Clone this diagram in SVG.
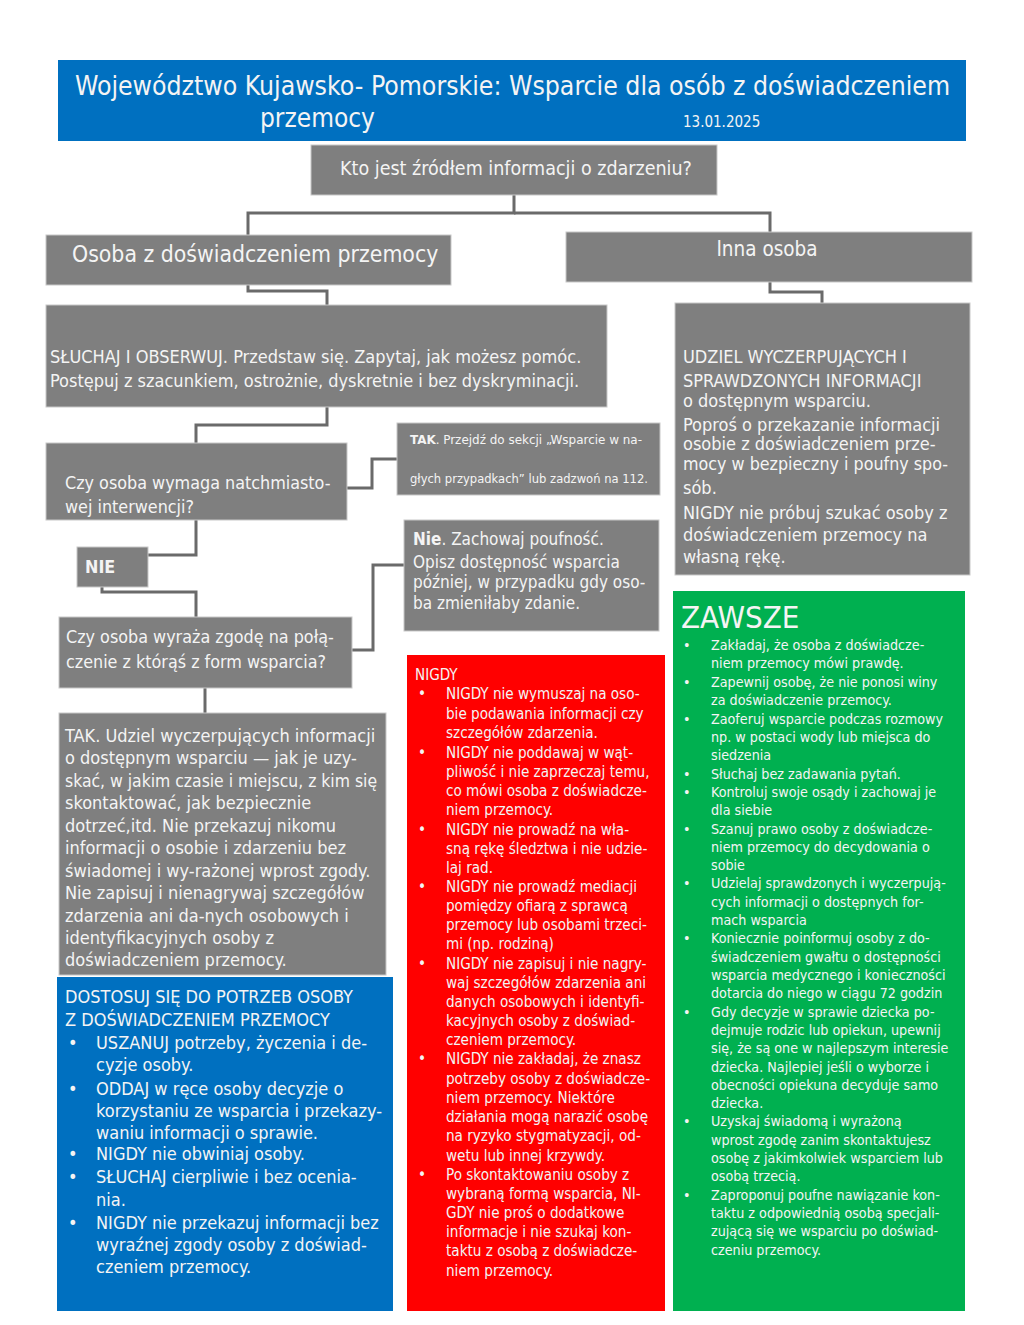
<svg xmlns="http://www.w3.org/2000/svg" width="1024" height="1325" viewBox="0 0 1024 1325">
<style>
text{font-family:"DejaVu Sans Condensed","DejaVu Sans","Liberation Sans",sans-serif;fill:#f4f4f4}
.g{fill:#7f7f7f;stroke:#c8c8c8;stroke-width:1}
.b{fill:#0070c0}
.r{fill:#ff0000}
.gr{fill:#00b050}
.c{fill:none;stroke:#6a6a6a;stroke-width:3}
.t18{font-size:18px}
.t17{font-size:17.8px}
.t16{font-size:17px}
.t14{font-size:15.1px}
.t13{font-size:14.2px}
.t12{font-size:12.5px}
</style>
<rect width="1024" height="1325" fill="#ffffff"/>
<g id="title">
<rect class="b" x="58" y="60" width="908" height="81"/>
<text x="75" y="95" font-size="26" textLength="875" lengthAdjust="spacingAndGlyphs">Województwo Kujawsko- Pomorskie: Wsparcie dla osób z doświadczeniem</text>
<text x="260" y="127" font-size="26">przemocy</text>
<text x="683" y="127" font-size="15">13.01.2025</text>
</g>
<g id="connectors">
<polyline class="c" points="514,195 514,213 248,213 248,235"/>
<polyline class="c" points="514,213 770,213 770,232"/>
<polyline class="c" points="248,285 248,291 327,291 327,305"/>
<polyline class="c" points="770,282 770,292 822,292 822,303"/>
<polyline class="c" points="327,407 327,425 196,425 196,443"/>
<polyline class="c" points="347,488 372,488 372,459 397,459"/>
<polyline class="c" points="196,520 196,555 148,555"/>
<polyline class="c" points="102,587 102,592 196,592 196,617"/>
<polyline class="c" points="352,650 373,650 373,565 404,565"/>
<polyline class="c" points="205,688 205,713"/>
</g>
<g id="q1">
<rect class="g" x="311" y="145" width="406" height="50"/>
<text x="516" y="175" font-size="19.5" text-anchor="middle">Kto jest źródłem informacji o zdarzeniu?</text>
</g>
<g id="osoba">
<rect class="g" x="46" y="235" width="405" height="50"/>
<text x="72" y="262" font-size="22.8">Osoba z doświadczeniem przemocy</text>
</g>
<g id="inna">
<rect class="g" x="566" y="232" width="406" height="50"/>
<text x="767" y="256" font-size="20.5" text-anchor="middle">Inna osoba</text>
</g>
<g id="sluchaj">
<rect class="g" x="46" y="305" width="561" height="102"/>
<text class="t18" x="50" y="363">SŁUCHAJ I OBSERWUJ. Przedstaw się. Zapytaj, jak możesz pomóc.</text>
<text class="t18" x="50" y="387">Postępuj z szacunkiem, ostrożnie, dyskretnie i bez dyskryminacji.</text>
</g>
<g id="udziel">
<rect class="g" x="675" y="303" width="295" height="272"/>
<text class="t18" x="683" y="363">UDZIEL WYCZERPUJĄCYCH I</text>
<text class="t18" x="683" y="387">SPRAWDZONYCH INFORMACJI</text>
<text class="t18" x="683" y="407">o dostępnym wsparciu.</text>
<text class="t18" x="683" y="431">Poproś o przekazanie informacji</text>
<text class="t18" x="683" y="450">osobie z doświadczeniem prze-</text>
<text class="t18" x="683" y="470" textLength="265" lengthAdjust="spacingAndGlyphs">mocy w bezpieczny i poufny spo-</text>
<text class="t18" x="683" y="494">sób.</text>
<text class="t18" x="683" y="519">NIGDY nie próbuj szukać osoby z</text>
<text class="t18" x="683" y="541">doświadczeniem przemocy na</text>
<text class="t18" x="683" y="563">własną rękę.</text>
</g>
<g id="q2">
<rect class="g" x="46" y="443" width="301" height="77"/>
<text class="t17" x="65" y="489">Czy osoba wymaga natchmiasto-</text>
<text class="t17" x="65" y="513">wej interwencji?</text>
</g>
<g id="tak1">
<rect class="g" x="397" y="423" width="263" height="72"/>
<text class="t12" x="410" y="444" textLength="232" lengthAdjust="spacingAndGlyphs"><tspan font-weight="bold">TAK</tspan>. Przejdź do sekcji „Wsparcie w na-</text>
<text class="t12" x="410" y="483" textLength="238" lengthAdjust="spacingAndGlyphs">głych przypadkach” lub zadzwoń na 112.</text>
</g>
<g id="nie">
<rect class="g" x="77" y="547" width="71" height="40"/>
<text class="t17" x="85" y="573" font-weight="bold">NIE</text>
</g>
<g id="q3">
<rect class="g" x="59" y="617" width="293" height="71"/>
<text class="t17" x="66" y="643">Czy osoba wyraża zgodę na połą-</text>
<text class="t17" x="66" y="668">czenie z którąś z form wsparcia?</text>
</g>
<g id="nie2">
<rect class="g" x="404" y="520" width="255" height="111"/>
<text class="t16" x="413" y="545"><tspan font-weight="bold">Nie</tspan>. Zachowaj poufność.</text>
<text class="t16" x="413" y="568">Opisz dostępność wsparcia</text>
<text class="t16" x="413" y="588">później, w przypadku gdy oso-</text>
<text class="t16" x="413" y="609">ba zmieniłaby zdanie.</text>
</g>
<g id="tak2">
<rect class="g" x="59" y="713" width="327" height="262"/>
<text class="t18" x="65" y="742">TAK. Udziel wyczerpujących informacji</text>
<text class="t18" x="65" y="764">o dostępnym wsparciu — jak je uzy-</text>
<text class="t18" x="65" y="787" textLength="312" lengthAdjust="spacingAndGlyphs">skać, w jakim czasie i miejscu, z kim się</text>
<text class="t18" x="65" y="809">skontaktować, jak bezpiecznie</text>
<text class="t18" x="65" y="832">dotrzeć,itd. Nie przekazuj nikomu</text>
<text class="t18" x="65" y="854">informacji o osobie i zdarzeniu bez</text>
<text class="t18" x="65" y="877">świadomej i wy-rażonej wprost zgody.</text>
<text class="t18" x="65" y="899">Nie zapisuj i nienagrywaj szczegółów</text>
<text class="t18" x="65" y="922">zdarzenia ani da-nych osobowych i</text>
<text class="t18" x="65" y="944">identyfikacyjnych osoby z</text>
<text class="t18" x="65" y="966">doświadczeniem przemocy.</text>
</g>
<g id="dostosuj">
<rect class="b" x="57" y="977" width="336" height="334"/>
<text class="t18" x="65" y="1003">DOSTOSUJ SIĘ DO POTRZEB OSOBY</text>
<text class="t18" x="65" y="1026">Z DOŚWIADCZENIEM PRZEMOCY</text>
<g class="t18">
<text x="68" y="1049">•</text><text x="96" y="1049">USZANUJ potrzeby, życzenia i de-</text>
<text x="96" y="1071">cyzje osoby.</text>
<text x="68" y="1095">•</text><text x="96" y="1095">ODDAJ w ręce osoby decyzje o</text>
<text x="96" y="1117">korzystaniu ze wsparcia i przekazy-</text>
<text x="96" y="1139">waniu informacji o sprawie.</text>
<text x="68" y="1160">•</text><text x="96" y="1160">NIGDY nie obwiniaj osoby.</text>
<text x="68" y="1183">•</text><text x="96" y="1183">SŁUCHAJ cierpliwie i bez ocenia-</text>
<text x="96" y="1206">nia.</text>
<text x="68" y="1229">•</text><text x="96" y="1229">NIGDY nie przekazuj informacji bez</text>
<text x="96" y="1251">wyraźnej zgody osoby z doświad-</text>
<text x="96" y="1273">czeniem przemocy.</text>
</g>
</g>
<g id="nigdy">
<rect class="r" x="407" y="655" width="258" height="656"/>
<text class="t14" x="415" y="680">NIGDY</text>
<g class="t14">
<text x="418" y="699">•</text><text x="446" y="699">NIGDY nie wymuszaj na oso-</text>
<text x="446" y="719">bie podawania informacji czy</text>
<text x="446" y="738">szczegółów zdarzenia.</text>
<text x="418" y="758">•</text><text x="446" y="758">NIGDY nie poddawaj w wąt-</text>
<text x="446" y="777">pliwość i nie zaprzeczaj temu,</text>
<text x="446" y="796">co mówi osoba z doświadcze-</text>
<text x="446" y="815">niem przemocy.</text>
<text x="418" y="835">•</text><text x="446" y="835">NIGDY nie prowadź na wła-</text>
<text x="446" y="854">sną rękę śledztwa i nie udzie-</text>
<text x="446" y="873">laj rad.</text>
<text x="418" y="892">•</text><text x="446" y="892">NIGDY nie prowadź mediacji</text>
<text x="446" y="911">pomiędzy ofiarą z sprawcą</text>
<text x="446" y="930">przemocy lub osobami trzeci-</text>
<text x="446" y="949">mi (np. rodziną)</text>
<text x="418" y="969">•</text><text x="446" y="969">NIGDY nie zapisuj i nie nagry-</text>
<text x="446" y="988">waj szczegółów zdarzenia ani</text>
<text x="446" y="1007">danych osobowych i identyfi-</text>
<text x="446" y="1026">kacyjnych osoby z doświad-</text>
<text x="446" y="1045">czeniem przemocy.</text>
<text x="418" y="1064">•</text><text x="446" y="1064">NIGDY nie zakładaj, że znasz</text>
<text x="446" y="1084">potrzeby osoby z doświadcze-</text>
<text x="446" y="1103">niem przemocy. Niektóre</text>
<text x="446" y="1122">działania mogą narazić osobę</text>
<text x="446" y="1141">na ryzyko stygmatyzacji, od-</text>
<text x="446" y="1161">wetu lub innej krzywdy.</text>
<text x="418" y="1180">•</text><text x="446" y="1180">Po skontaktowaniu osoby z</text>
<text x="446" y="1199">wybraną formą wsparcia, NI-</text>
<text x="446" y="1218">GDY nie proś o dodatkowe</text>
<text x="446" y="1237">informacje i nie szukaj kon-</text>
<text x="446" y="1256">taktu z osobą z doświadcze-</text>
<text x="446" y="1276">niem przemocy.</text>
</g>
</g>
<g id="zawsze">
<rect class="gr" x="673" y="591" width="292" height="720"/>
<text x="681" y="628" font-size="31">ZAWSZE</text>
<g class="t13">
<text x="683" y="650">•</text><text x="711" y="650">Zakładaj, że osoba z doświadcze-</text>
<text x="711" y="668">niem przemocy mówi prawdę.</text>
<text x="683" y="687">•</text><text x="711" y="687">Zapewnij osobę, że nie ponosi winy</text>
<text x="711" y="705">za doświadczenie przemocy.</text>
<text x="683" y="724">•</text><text x="711" y="724">Zaoferuj wsparcie podczas rozmowy</text>
<text x="711" y="742">np. w postaci wody lub miejsca do</text>
<text x="711" y="760">siedzenia</text>
<text x="683" y="779">•</text><text x="711" y="779">Słuchaj bez zadawania pytań.</text>
<text x="683" y="797">•</text><text x="711" y="797">Kontroluj swoje osądy i zachowaj je</text>
<text x="711" y="815">dla siebie</text>
<text x="683" y="834">•</text><text x="711" y="834">Szanuj prawo osoby z doświadcze-</text>
<text x="711" y="852">niem przemocy do decydowania o</text>
<text x="711" y="870">sobie</text>
<text x="683" y="888">•</text><text x="711" y="888">Udzielaj sprawdzonych i wyczerpują-</text>
<text x="711" y="907">cych informacji o dostępnych for-</text>
<text x="711" y="925">mach wsparcia</text>
<text x="683" y="943">•</text><text x="711" y="943">Koniecznie poinformuj osoby z do-</text>
<text x="711" y="962">świadczeniem gwałtu o dostępności</text>
<text x="711" y="980">wsparcia medycznego i konieczności</text>
<text x="711" y="998">dotarcia do niego w ciągu 72 godzin</text>
<text x="683" y="1017">•</text><text x="711" y="1017">Gdy decyzje w sprawie dziecka po-</text>
<text x="711" y="1035">dejmuje rodzic lub opiekun, upewnij</text>
<text x="711" y="1053">się, że są one w najlepszym interesie</text>
<text x="711" y="1072">dziecka. Najlepiej jeśli o wyborze i</text>
<text x="711" y="1090">obecności opiekuna decyduje samo</text>
<text x="711" y="1108">dziecka.</text>
<text x="683" y="1126">•</text><text x="711" y="1126">Uzyskaj świadomą i wyrażoną</text>
<text x="711" y="1145">wprost zgodę zanim skontaktujesz</text>
<text x="711" y="1163">osobę z jakimkolwiek wsparciem lub</text>
<text x="711" y="1181">osobą trzecią.</text>
<text x="683" y="1200">•</text><text x="711" y="1200">Zaproponuj poufne nawiązanie kon-</text>
<text x="711" y="1218">taktu z odpowiednią osobą specjali-</text>
<text x="711" y="1236">zującą się we wsparciu po doświad-</text>
<text x="711" y="1255">czeniu przemocy.</text>
</g>
</g>
</svg>
